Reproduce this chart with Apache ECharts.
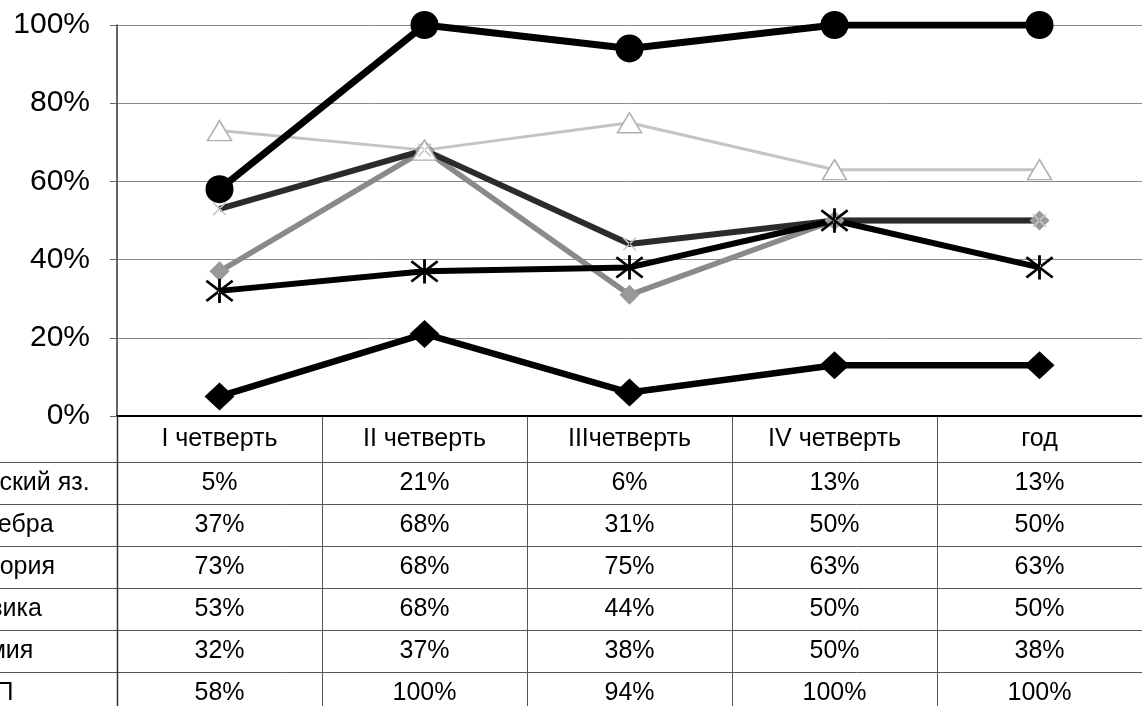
<!DOCTYPE html>
<html><head><meta charset="utf-8">
<script src="https://cdn.jsdelivr.net/npm/echarts@6/dist/echarts.min.js"></script>
<style>html,body{margin:0;padding:0;background:#fff;overflow:hidden}#c{width:1142px;height:706px}</style>
</head><body><div id="c"></div>
<script>
const categories = ['I четверть', 'II четверть', 'IIIчетверть', 'IV четверть', 'год'];
const subjects = ['Русский яз.', 'Алгебра', 'История', 'Физика', 'Химия', 'ОПП'];
const russian = [5, 21, 6, 13, 13];
const algebra = [37, 68, 31, 50, 50];
const history = [73, 68, 75, 63, 63];
const physics = [53, 68, 44, 50, 50];
const chemistry = [32, 37, 38, 50, 38];
const opp = [58, 100, 94, 100, 100];
const yTickValues = [0, 20, 40, 60, 80, 100];

const tableRows = [russian, algebra, history, physics, chemistry, opp];

const FONT = 'Liberation Sans, Arial, sans-serif';
const ASTER = 'path://M-1.3,-12L1.3,-12L1.3,12L-1.3,12Z M-12.8,-9L-11.2,-11L12.8,9L11.2,11Z M-12.8,9L-11.2,11L12.8,-9L11.2,-11Z';
const XMARK = 'path://M-10.8,-9L-9.2,-11L10.8,9L9.2,11Z M-10.8,9L-9.2,11L10.8,-9L9.2,-11Z';

const chart = echarts.init(document.getElementById('c'), null, {renderer: 'canvas'});

function lineSeries(name, data, color, width, symbol, size, itemStyle) {
  return {
    name: name, type: 'line', data: data,
    symbol: symbol, symbolSize: size, symbolKeepAspect: true,
    showSymbol: true,
    lineStyle: {color: color, width: width},
    itemStyle: itemStyle || {color: color},
    emphasis: {disabled: true},
    z: 2
  };
}

const option = {
  animation: false,
  backgroundColor: '#fff',
  grid: {left: 117, right: -7, top: 25, bottom: 290, containLabel: false},
  xAxis: {
    type: 'category', data: categories, boundaryGap: true,
    axisLine: {show: true, lineStyle: {color: '#000', width: 2}},
    axisTick: {show: false},
    axisLabel: {margin: 11, fontFamily: FONT, fontSize: 25, color: '#000', interval: 0},
    splitLine: {show: false}
  },
  yAxis: {
    type: 'value', min: 0, max: 100, interval: 20,
    axisLine: {show: true, lineStyle: {color: '#333', width: 1.5}},
    axisTick: {show: true, length: 7, lineStyle: {color: '#666'}},
    axisLabel: {margin: 27, fontFamily: FONT, fontSize: 30, color: '#000',
      formatter: v => yTickValues.includes(v) ? v + '%' : ''},
    splitLine: {show: true, lineStyle: {color: '#8a8a8a', width: 1}}
  },
  series: [
    lineSeries(subjects[0], russian, '#000', 6.5, 'diamond', [30, 28]),
    lineSeries(subjects[1], algebra, '#8a8a8a', 5.5, 'diamond', [20, 20], {color: '#999'}),
    lineSeries(subjects[2], history, '#c4c4c4', 3, 'triangle', [24, 20], {color: '#fff', borderColor: '#b0b0b0', borderWidth: 1.5}),
    lineSeries(subjects[3], physics, '#2b2b2b', 6, XMARK, [14, 14], {color: '#c8c8c8'}),
    lineSeries(subjects[4], chemistry, '#000', 6, ASTER, [28, 26], {color: '#000'}),
    lineSeries(subjects[5], opp, '#000', 7, 'circle', [28, 28], {color: '#000'})
  ]
};
chart.setOption(option);

// build the data table under the chart from the same arrays
const xs = categories.map(c => chart.convertToPixel({xAxisIndex: 0}, c));
const step = xs[1] - xs[0];
const axisY = chart.convertToPixel({yAxisIndex: 0}, 0);
const headerH = 46, rowH = 42;
const firstLine = axisY + headerH;
const W = chart.getWidth(), H = chart.getHeight();
const g = [];
for (let i = 0; i < tableRows.length; i++) {
  const y = Math.round(firstLine + i * rowH) + 0.5;
  g.push({type: 'line', shape: {x1: 0, y1: y, x2: W, y2: y}, style: {stroke: '#555', lineWidth: 1}, silent: true});
}
for (let k = 0; k < categories.length; k++) {
  const x = Math.round(xs[k] - step / 2) + 0.5;
  g.push({type: 'line', shape: {x1: x, y1: axisY, x2: x, y2: H}, style: {stroke: k === 0 ? '#333' : '#555', lineWidth: k === 0 ? 1.5 : 1}, silent: true});
}
tableRows.forEach((row, r) => {
  const cy = firstLine + r * rowH + rowH / 2;
  g.push({type: 'text', x: -42, y: cy, style: {text: subjects[r], fill: '#000', font: '25px ' + FONT, textAlign: 'left', textVerticalAlign: 'middle'}, silent: true});
  row.forEach((v, c) => {
    g.push({type: 'text', x: xs[c], y: cy, style: {text: v + '%', fill: '#000', font: '25px ' + FONT, textAlign: 'center', textVerticalAlign: 'middle'}, silent: true});
  });
});
chart.setOption({graphic: {elements: g}});
</script></body></html>
